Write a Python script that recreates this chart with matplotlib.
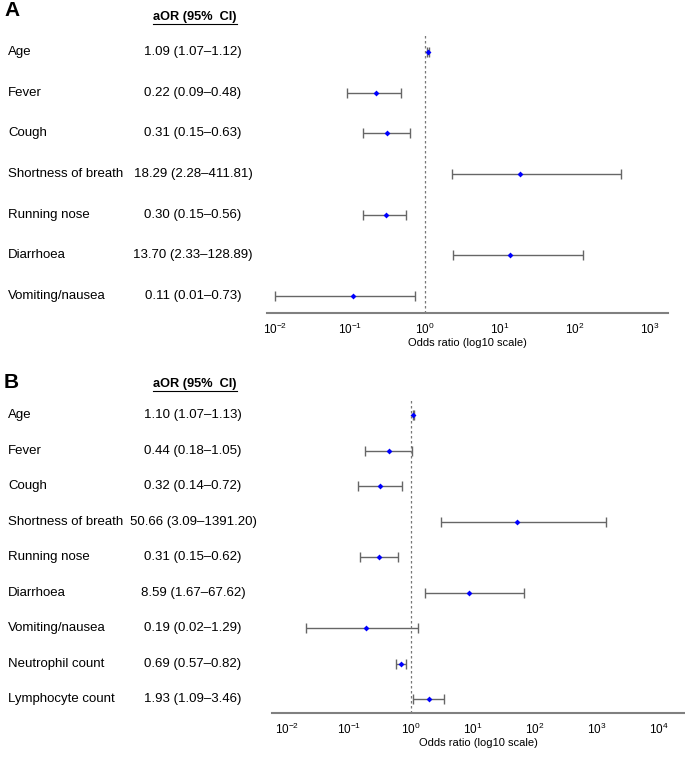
import numpy as np
import matplotlib.pyplot as plt
from matplotlib.transforms import blended_transform_factory

plt.rcParams['font.family'] = ['Liberation Sans', 'DejaVu Sans']

# Panel A data
labels_a = ['Age', 'Fever', 'Cough', 'Shortness of breath', 'Running nose',
            'Diarrhoea', 'Vomiting/nausea']
or_a = [1.09, 0.22, 0.31, 18.29, 0.30, 13.70, 0.11]
lo_a = [1.07, 0.09, 0.15, 2.28, 0.15, 2.33, 0.01]
hi_a = [1.12, 0.48, 0.63, 411.81, 0.56, 128.89, 0.73]
text_a = ['1.09 (1.07\u20131.12)', '0.22 (0.09\u20130.48)', '0.31 (0.15\u20130.63)',
          '18.29 (2.28\u2013411.81)', '0.30 (0.15\u20130.56)', '13.70 (2.33\u2013128.89)',
          '0.11 (0.01\u20130.73)']
ticks_a = [1e-2, 1e-1, 1e0, 1e1, 1e2, 1e3]

# Panel B data
labels_b = ['Age', 'Fever', 'Cough', 'Shortness of breath', 'Running nose',
            'Diarrhoea', 'Vomiting/nausea', 'Neutrophil count', 'Lymphocyte count']
or_b = [1.10, 0.44, 0.32, 50.66, 0.31, 8.59, 0.19, 0.69, 1.93]
lo_b = [1.07, 0.18, 0.14, 3.09, 0.15, 1.67, 0.02, 0.57, 1.09]
hi_b = [1.13, 1.05, 0.72, 1391.20, 0.62, 67.62, 1.29, 0.82, 3.46]
text_b = ['1.10 (1.07\u20131.13)', '0.44 (0.18\u20131.05)', '0.32 (0.14\u20130.72)',
          '50.66 (3.09\u20131391.20)', '0.31 (0.15\u20130.62)', '8.59 (1.67\u201367.62)',
          '0.19 (0.02\u20131.29)', '0.69 (0.57\u20130.82)', '1.93 (1.09\u20133.46)']
ticks_b = [1e-2, 1e-1, 1e0, 1e1, 1e2, 1e3, 1e4]

W, H = 685, 760
fig = plt.figure(figsize=(W / 100, H / 100), dpi=100)


def forest(rect, labels, ors, lo, hi, texts, ticks, xlim, ylim, letter, letter_y, head_y):
    ax = fig.add_axes(rect)
    n = len(labels)
    y = np.arange(n)
    ors = np.array(ors)
    err = [ors - np.array(lo), np.array(hi) - ors]
    ax.errorbar(ors, y, xerr=err, fmt='none', ecolor='#666666', elinewidth=1,
                capsize=3.5, capthick=1)
    ax.plot(ors, y, 'D', color='#0000ff', markersize=3, markeredgewidth=0)
    ax.axvline(1, color='#777777', linestyle=(0, (2, 2)), linewidth=0.9)
    ax.set_xscale('log')
    ax.set_xlim(*xlim)
    ax.set_ylim(*ylim)
    ax.set_xticks(ticks)
    ax.minorticks_off()
    ax.set_yticks([])
    for s in ['top', 'right', 'left']:
        ax.spines[s].set_visible(False)
    ax.spines['bottom'].set_color('#808080')
    ax.spines['bottom'].set_linewidth(1.5)
    ax.tick_params(axis='x', length=0, labelsize=8.5, pad=6)
    ax.set_xlabel('Odds ratio (log10 scale)', fontsize=8, labelpad=1)
    tr = blended_transform_factory(fig.transFigure, ax.transData)
    for i in range(n):
        ax.text(8 / W, y[i], labels[i], transform=tr, fontsize=9.5,
                va='center', ha='left')
        ax.text(193 / W, y[i], texts[i], transform=tr, fontsize=9.5,
                va='center', ha='center')
    fig.text(195 / W, 1 - head_y / H, 'aOR (95%  CI)', fontsize=9.2,
             fontweight='bold', ha='center', va='center')
    fig.lines.append(plt.Line2D([153 / W, 237 / W],
                                [1 - (head_y + 7) / H, 1 - (head_y + 7) / H],
                                transform=fig.transFigure, color='black', linewidth=0.8))
    fig.text(4 / W, 1 - letter_y / H, letter, fontsize=15, fontweight='bold',
             ha='left', va='center')
    return ax


# Panel A: axis line at y=313px, rows 52..296px
forest([267 / W, 1 - 313 / H, (668 - 267) / W, (313 - 33) / H],
       labels_a, or_a, lo_a, hi_a, text_a, ticks_a,
       (10 ** -2.107, 10 ** 3.24), (6.42, -0.47), 'A', 11, 17)

# Panel B: axis line at y=713px, rows 415..699px
forest([272 / W, 1 - 713 / H, (685 - 272) / W, (713 - 398) / H],
       labels_b, or_b, lo_b, hi_b, text_b, ticks_b,
       (10 ** -2.24, 10 ** 4.42), (8.39, -0.48), 'B', 383, 384)

fig.savefig('out.png', dpi=100)
